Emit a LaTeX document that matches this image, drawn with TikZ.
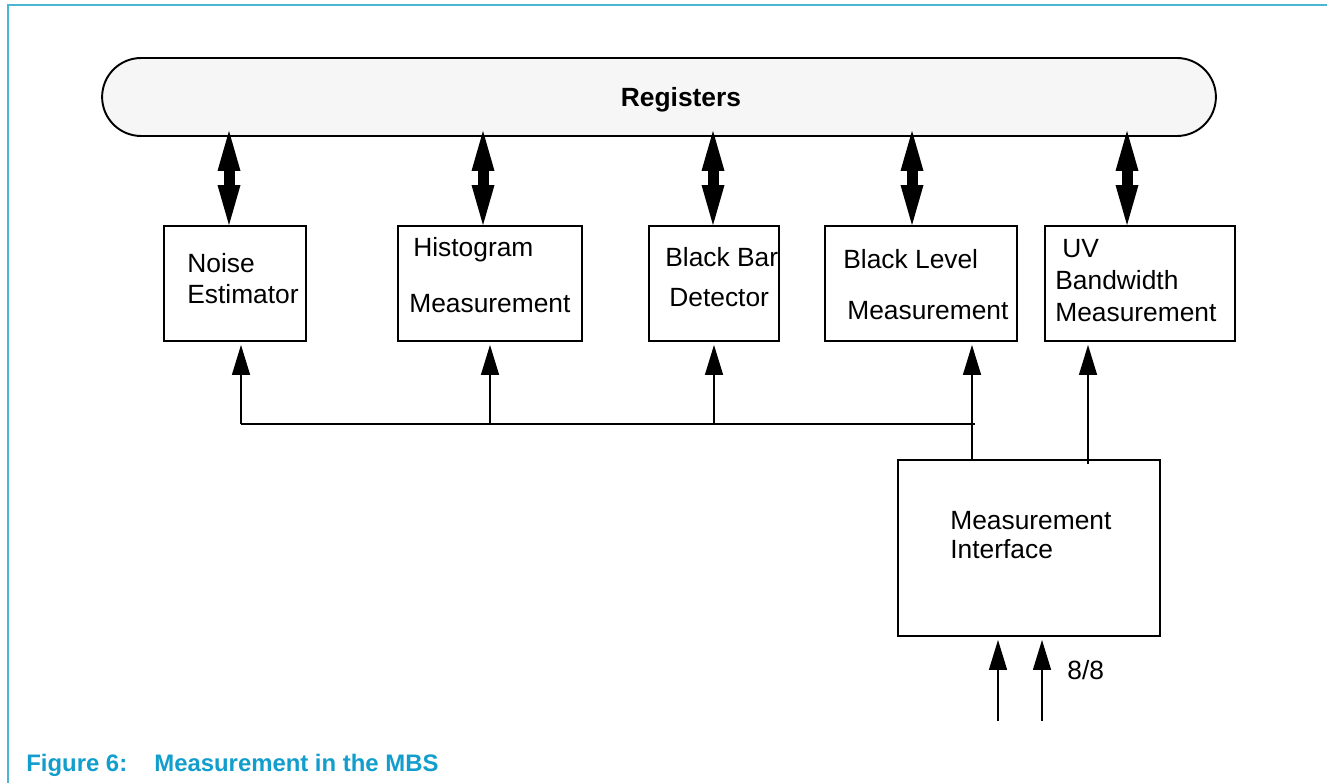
\documentclass[tikz,border=0pt]{standalone}
\usepackage{fontspec}
\setmainfont{Liberation Sans}
\usepackage{xcolor}
\usetikzlibrary{positioning, arrows.meta}
\definecolor{framecol}{RGB}{75,182,212}
\definecolor{capcol}{RGB}{18,158,204}
\definecolor{regfill}{RGB}{246,246,246}

\begin{document}
\begin{tikzpicture}[
      x=0.02cm, y=-0.02cm,
      blk/.style={draw, line width=1.1pt, minimum height=2.3cm, inner sep=0pt},
      reg/.style={draw, line width=1.1pt, fill=regfill, rounded corners=0.78cm,
                  minimum width=22.28cm, minimum height=1.56cm, inner sep=0pt},
      txt/.style={anchor=base west, inner sep=0pt, font=\fontsize{15}{17}\selectfont},
      dbl/.style={line width=0.22cm, <->,
                  >={Triangle[length=0.8cm, width=0.46cm, line width=0pt]}},
      inarr/.style={line width=0.8pt, ->, shorten >=0.06cm,
                  >={Triangle[length=0.6cm, width=0.36cm]}},
      wire/.style={line width=0.8pt},
      captxt/.style={anchor=base west, inner sep=0pt, text=capcol,
                  font=\fontsize{13.6}{15}\selectfont\bfseries}]
    \useasboundingbox (0,0) rectangle (1327,783);
    % page frame
    \draw[framecol, line width=1pt] (8,783) -- (8,5) -- (1327,5);
    % register bank
    \node[reg] (reg) at (659,97) {};
    \node[anchor=base, inner sep=0pt, font=\fontsize{15}{17}\selectfont\bfseries]
      (regt) at (681,107) {Registers};
    % measurement blocks
    \node[blk, minimum width=2.84cm] (noise) at (235,283.5) {};
    \node[blk, minimum width=3.68cm] (hist)  at (490,283.5) {};
    \node[blk, minimum width=2.6cm]  (bbar)  at (714,283.5) {};
    \node[blk, minimum width=3.84cm] (blev)  at (921,283.5) {};
    \node[blk, minimum width=3.8cm]  (uvbw)  at (1140,283.5) {};
    \node[blk, minimum width=5.24cm, minimum height=3.52cm] (mi) at (1029,548) {};
    % block texts
    \node[txt] (t1a) at (187,273) {Noise};
    \node[txt] (t1b) at (187,304) {Estimator};
    \node[txt] (t2a) at (413,257) {Histogram};
    \node[txt] (t2b) at (409,313) {Measurement};
    \node[txt] (t3a) at (665,267) {Black Bar};
    \node[txt] (t3b) at (669,307) {Detector};
    \node[txt] (t4a) at (843,269) {Black Level};
    \node[txt] (t4b) at (847,320) {Measurement};
    \node[txt] (t5a) at (1062,258) {UV};
    \node[txt] (t5b) at (1055,290) {Bandwidth};
    \node[txt] (t5c) at (1055,322) {Measurement};
    \node[txt] (t6a) at (950,529) {Measurement};
    \node[txt] (t6b) at (950,558) {Interface};
    % register access
    \draw[dbl] ([xshift=-0.12cm, yshift=0.12cm]noise.north |- reg.south) -- ([xshift=-0.12cm]noise.north);
    \draw[dbl] ([xshift=-0.14cm, yshift=0.12cm]hist.north |- reg.south) -- ([xshift=-0.14cm]hist.north);
    \draw[dbl] ([xshift=-0.02cm, yshift=0.12cm]bbar.north |- reg.south) -- ([xshift=-0.02cm]bbar.north);
    \draw[dbl] ([xshift=-0.18cm, yshift=0.12cm]blev.north |- reg.south) -- ([xshift=-0.18cm]blev.north);
    \draw[dbl] ([xshift=-0.26cm, yshift=0.12cm]uvbw.north |- reg.south) -- ([xshift=-0.26cm]uvbw.north);
    % interface bus
    \coordinate (busL) at (241,424);
    \coordinate (busR) at (975,424);
    \draw[wire] (busL) -- (busR);
    \draw[inarr] (busL) -- (busL |- noise.south);
    \draw[inarr] (hist.south |- busL) -- (hist.south);
    \draw[inarr] (bbar.south |- busL) -- (bbar.south);
    \draw[inarr] ([xshift=1.02cm]blev.south |- mi.north) -- ([xshift=1.02cm]blev.south);
    \draw[inarr] ([xshift=-1.04cm, yshift=-0.1cm]uvbw.south |- mi.north) -- ([xshift=-1.04cm]uvbw.south);
    % inputs
    \coordinate (inA) at (998,721);
    \coordinate (inB) at (1042,721);
    \draw[inarr] (inA) -- (inA |- mi.south);
    \draw[inarr] (inB) -- (inB |- mi.south);
    \node[txt] (bw) at (1067,679) {8/8};
    % caption
    \node[captxt] (capa) at (26,771) {Figure 6:};
    \node[captxt] (capb) at (154,771) {Measurement in the MBS};
\end{tikzpicture}
\end{document}
